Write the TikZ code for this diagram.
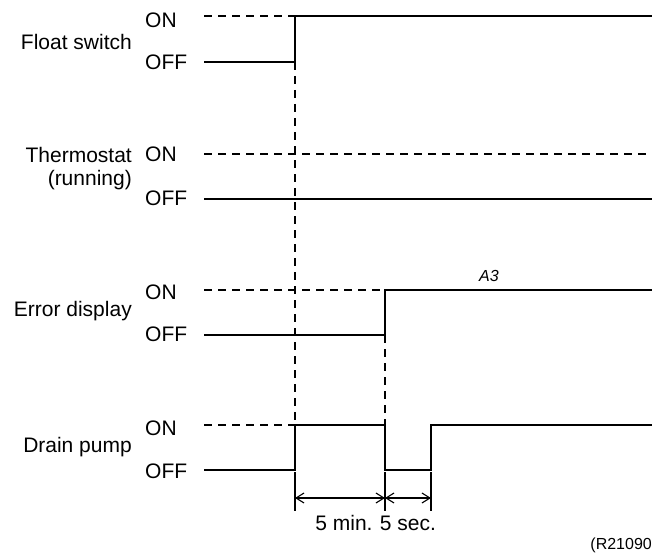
\documentclass[tikz,border=0pt]{standalone}
\usepackage{fontspec}
\setmainfont{Liberation Sans}
\usetikzlibrary{arrows.meta}
\begin{document}
\begin{tikzpicture}[x=1pt,y=-1pt,
  sig/.style={line width=1.4pt,line join=miter},
  dsh/.style={line width=1.4pt,dash pattern=on 8pt off 6pt},
  lbl/.style={font=\fontsize{21}{24}\selectfont,inner sep=0pt},
  lvl/.style={font=\fontsize{21}{24}\selectfont,inner sep=0pt,anchor=west},
  dim/.style={line width=1.1pt,{Straight Barb[length=8pt,width=10pt]}-{Straight Barb[length=8pt,width=10pt]}},
  tick/.style={line width=1.1pt}]
\useasboundingbox (0,0) rectangle (652,559);
% labels
\node[lbl,anchor=east] (fs) at (132,42) {Float switch};
\node[lvl] (fson) at (145,20) {ON};
\node[lvl] (fsoff) at (145,62) {OFF};
\node[lbl,anchor=east] (th) at (132,155) {Thermostat};
\node[lbl,anchor=east] (thr) at (132,180) {(running)};
\node[lvl] (thon) at (145,154) {ON};
\node[lvl] (thoff) at (145,198) {OFF};
\node[lbl,anchor=east] (ed) at (132,311) {Error display};
\node[lvl] (edon) at (145,292) {ON};
\node[lvl] (edoff) at (145,334) {OFF};
\node[lbl,anchor=east] (dp) at (132,447) {Drain pump};
\node[lvl] (dpon) at (145,428) {ON};
\node[lvl] (dpoff) at (145,471) {OFF};
% float switch
\draw[dsh] (204,16) -- (295,16);
\draw[sig] (204,62) -- (295,62) -- (295,16) -- (652,16);
% thermostat
\draw[dsh] (204,154) -- (652,154);
\draw[sig] (204,199) -- (652,199);
% error display
\draw[dsh] (204,290) -- (385,290);
\draw[sig] (204,335) -- (385,335) -- (385,290) -- (652,290);
\node[font=\fontsize{16}{18}\selectfont\itshape,inner sep=0pt] (a3) at (489,276) {A3};
% drain pump
\draw[dsh] (204,425) -- (295,425);
\draw[sig] (204,470) -- (295,470) -- (295,425) -- (385,425) -- (385,470) -- (431,470) -- (431,425) -- (652,425);
% vertical dashed guides
\draw[dsh] (295,62) -- (295,425);
\draw[dsh] (385,335) -- (385,425);
% dimension
\coordinate (t1) at (295,472);
\coordinate (t2) at (385,472);
\coordinate (t3) at (431,472);
\draw[tick] (t1) -- (295,511);
\draw[tick] (t2) -- (385,511);
\draw[tick] (t3) -- (431,511);
\coordinate (a1) at (295,498);
\coordinate (a2) at (385,498);
\coordinate (a3c) at (431,498);
\draw[dim] (a1) -- (a2);
\draw[dim] (a2) -- (a3c);
\node[lbl] (m5) at (344,523) {5 min.};
\node[lbl] (s5) at (408,523) {5 sec.};
\node[font=\fontsize{16}{18}\selectfont,inner sep=0pt,anchor=east] (ref) at (652,545) {(R21090};
\end{tikzpicture}
\end{document}
